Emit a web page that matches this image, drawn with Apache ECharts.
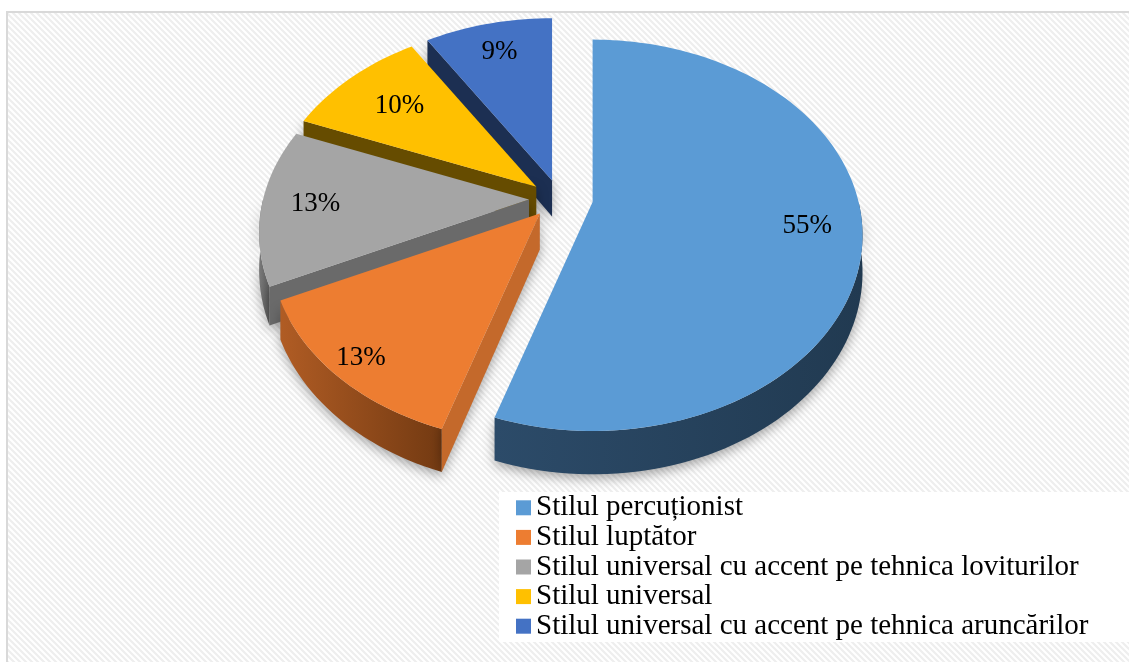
<!DOCTYPE html>
<html>
<head>
<meta charset="utf-8">
<script src="https://cdn.jsdelivr.net/npm/echarts@6/dist/echarts.min.js"></script>
<style>
html,body{margin:0;padding:0;background:#fff;}
#chart{width:1129px;height:662px;}
</style>
</head>
<body>
<div id="chart"></div>
<script>
const categories = [
  'Stilul percuționist',
  'Stilul luptător',
  'Stilul universal cu accent pe tehnica loviturilor',
  'Stilul universal',
  'Stilul universal cu accent pe tehnica aruncărilor'
]
const values = [55, 13, 13, 10, 9]

const topColors = ['#5b9bd5', '#ed7d31', '#a5a5a5', '#ffc000', '#4472c4']
const faceColors = ['#2e5175', '#c4692b', '#6a6a6a', '#664c00', '#1c2f52']
const rimColors = [
  ['#2c4b69', '#213a51'],
  ['#b05c24', '#733a12'],
  ['#7a7a7a', '#5a5a5a'],
  ['#7a5c00', '#5c4500'],
  ['#22396a', '#1a2c50']
]
// where the % label sits along the radius, per slice
const labelR = [0.8, 0.9, 0.8, 0.72, 0.8]

// fake 3d pie: ellipse + a bit of perspective
const cx = 561, cy = 199, rx = 266, ry = 190
const depth = 36, persp = 0.17, explode = 32

const total = values.reduce((a, b) => a + b, 0)
const angles = []
let acc = 0
values.forEach(v => {
  const a0 = acc / total * Math.PI * 2
  acc += v
  angles.push([a0, acc / total * Math.PI * 2])
})
// far slices first
const order = values.map((v, i) => i).sort((a, b) => {
  const ma = (angles[a][0] + angles[a][1]) / 2, mb = (angles[b][0] + angles[b][1]) / 2
  return -Math.cos(ma) + Math.cos(mb)
})
const rank = []
order.forEach((idx, k) => rank[idx] = k)

function pt(ox, oy, r, t, h) {
  const p = 1 / (1 + persp * r * Math.cos(t))
  return [ox + rx * r * Math.sin(t) * p, oy - ry * r * Math.cos(t) * p + h * p]
}
function arc(ox, oy, t0, t1, h) {
  const n = Math.max(2, Math.ceil((t1 - t0) / 0.03))
  const pts = []
  for (let k = 0; k <= n; k++) pts.push(pt(ox, oy, 1, t0 + (t1 - t0) * k / n, h))
  return pts
}

function renderSlice(i) {
  return function (params, api) {
    const a0 = angles[i][0], a1 = angles[i][1]
    const mid = (a0 + a1) / 2
    const ox = cx + explode * Math.sin(mid)
    const oy = cy - explode * 0.6 * Math.cos(mid)
    const base = rank[i] * 10
    const shadow = {shadowBlur: 12, shadowColor: 'rgba(0,0,0,0.35)', shadowOffsetY: 4}
    const children = []

    // outer rim, only the front half is seen
    const r0 = Math.max(a0, Math.PI / 2), r1 = Math.min(a1, Math.PI * 1.5)
    if (r1 > r0) {
      const pts = arc(ox, oy, r0, r1, 0).concat(arc(ox, oy, r0, r1, depth).reverse())
      children.push({
        type: 'polygon', z2: base,
        shape: {points: pts},
        style: Object.assign({
          fill: new echarts.graphic.LinearGradient(0, 0, 1, 0, [
            {offset: 0, color: rimColors[i][0]},
            {offset: 1, color: rimColors[i][1]}
          ])
        }, shadow)
      })
    }
    // cut faces
    const face = (t) => {
      const a = pt(ox, oy, 0, t, 0), b = pt(ox, oy, 1, t, 0)
      const c = pt(ox, oy, 1, t, depth), d = pt(ox, oy, 0, t, depth)
      children.push({
        type: 'polygon', z2: base + 1,
        shape: {points: [a, b, c, d]},
        style: Object.assign({fill: faceColors[i]}, shadow)
      })
    }
    if (Math.cos(a0 - Math.PI / 2) < 0) face(a0)
    if (Math.cos(a1 + Math.PI / 2) < 0) face(a1)

    // top
    children.push({
      type: 'polygon', z2: base + 5,
      shape: {points: [[ox, oy]].concat(arc(ox, oy, a0, a1, 0))},
      style: {fill: api.visual('color')}
    })
    const lp = pt(ox, oy, labelR[i], mid, 0)
    children.push({
      type: 'text', z2: 200,
      style: {
        text: Math.round(values[i] / total * 100) + '%',
        x: lp[0], y: lp[1],
        align: 'center', verticalAlign: 'middle',
        font: '27px "Liberation Serif", serif', fill: '#000'
      }
    })
    return {type: 'group', children}
  }
}

// hatched background
const tile = document.createElement('canvas')
tile.width = 6; tile.height = 6
const ctx = tile.getContext('2d')
ctx.fillStyle = '#fff'
ctx.fillRect(0, 0, 6, 6)
ctx.strokeStyle = '#eeeeee'
ctx.lineWidth = 2.2
ctx.beginPath()
ctx.moveTo(-3, -3); ctx.lineTo(9, 9)
ctx.moveTo(-9, -3); ctx.lineTo(3, 9)
ctx.moveTo(3, -3); ctx.lineTo(15, 9)
ctx.stroke()

const chart = echarts.init(document.getElementById('chart'))
const option = {
  backgroundColor: '#fff',
  animation: false,
  graphic: [
    {
      type: 'rect', z: 0, silent: true,
      shape: {x: 7, y: 12, width: 1140, height: 670},
      style: {fill: {image: tile, repeat: 'repeat'}, stroke: '#d9d9d9', lineWidth: 2}
    },
    {
      type: 'rect', z: 1, silent: true,
      shape: {x: 499, y: 492, width: 640, height: 150},
      style: {fill: '#fff'}
    }
  ],
  legend: {
    orient: 'vertical',
    left: 516,
    top: 493,
    padding: 0,
    itemGap: 0,
    itemWidth: 15,
    itemHeight: 15,
    icon: 'rect',
    data: categories,
    textStyle: {fontFamily: '"Liberation Serif", serif', fontSize: 29, color: '#000', lineHeight: 29.6}
  },
  series: categories.map((name, i) => ({
    type: 'custom',
    name: name,
    coordinateSystem: 'none',
    itemStyle: {color: topColors[i]},
    data: [values[i]],
    renderItem: renderSlice(i)
  }))
}
chart.setOption(option)
</script>
</body>
</html>
